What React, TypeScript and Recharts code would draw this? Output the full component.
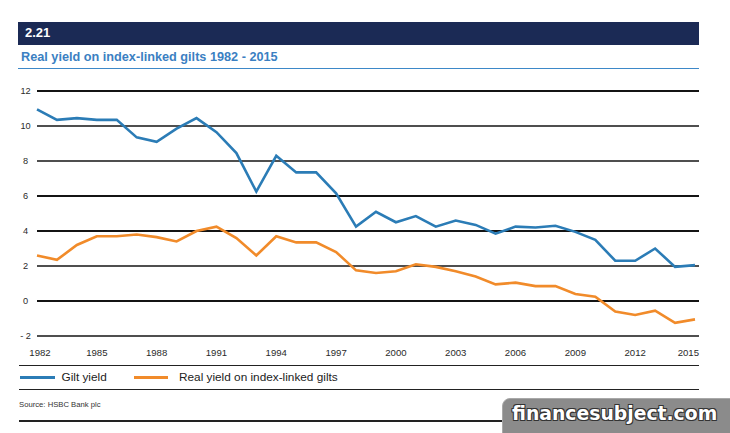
import React from 'react';
import { LineChart, Line, XAxis, YAxis, ReferenceLine } from 'recharts';

// Annual values, 1982 - 2015 (%)
const years = [
  1982, 1983, 1984, 1985, 1986, 1987, 1988, 1989, 1990, 1991, 1992, 1993,
  1994, 1995, 1996, 1997, 1998, 1999, 2000, 2001, 2002, 2003, 2004, 2005,
  2006, 2007, 2008, 2009, 2010, 2011, 2012, 2013, 2014, 2015,
];

const giltYield = [
  10.95, 10.35, 10.45, 10.35, 10.35, 9.35, 9.1, 9.85, 10.45, 9.65, 8.45, 6.25,
  8.3, 7.35, 7.35, 6.15, 4.25, 5.1, 4.5, 4.85, 4.25, 4.6, 4.35, 3.85,
  4.25, 4.2, 4.3, 3.95, 3.5, 2.3, 2.3, 3.0, 1.95, 2.05,
];

const realYield = [
  2.6, 2.35, 3.2, 3.7, 3.7, 3.8, 3.65, 3.4, 4.0, 4.25, 3.6, 2.6,
  3.7, 3.35, 3.35, 2.8, 1.75, 1.6, 1.7, 2.1, 1.95, 1.7, 1.4, 0.95,
  1.05, 0.85, 0.85, 0.4, 0.25, -0.6, -0.8, -0.55, -1.25, -1.05,
];

const yearTicks = [1982, 1985, 1988, 1991, 1994, 1997, 2000, 2003, 2006, 2009, 2012, 2015];
const yieldTicks = [12, 10, 8, 6, 4, 2, 0, -2];
const heavyGridValues = [12, 6, 4, 0];

const rows = years.map((year, i) => ({ year, gilt: giltYield[i], real: realYield[i] }));

const BLUE = '#2b7cb6';
const ORANGE = '#f18b2a';
const NAVY = '#1b2a55';
const SANS = '"Liberation Sans", Arial, sans-serif';

const XTick = (props: any) => {
  const { x, y, payload } = props;
  const v = payload.value;
  let anchor: 'middle' | 'end' = 'middle';
  let dx = 0;
  if (v === yearTicks[0]) dx = 3;
  if (v === yearTicks[yearTicks.length - 1]) {
    anchor = 'end';
    dx = 4;
  }
  return (
    <text x={x + dx} y={y} dy={20} textAnchor={anchor} fontFamily={SANS} fontSize={9.6} fill="#2a2a2a">
      {v}
    </text>
  );
};

const YTick = (props: any) => {
  const { x, y, payload } = props;
  const v = payload.value;
  const label = v < 0 ? `- ${Math.abs(v)}` : String(v);
  return (
    <text x={x - 11.5} y={y} dy={3.3} textAnchor="middle" fontFamily={SANS} fontSize={9.2} fill="#2a2a2a">
      {label}
    </text>
  );
};

const rule = (top: number, h = 1): React.CSSProperties => ({
  position: 'absolute',
  left: 19,
  top,
  width: 680,
  height: h,
  background: '#222',
});

export default function App() {
  return (
    <div
      style={{
        position: 'absolute',
        left: 0,
        top: 0,
        width: 730,
        height: 433,
        overflow: 'hidden',
        background: '#fff',
        fontFamily: SANS,
      }}
    >
      {/* Header band */}
      <div
        style={{
          position: 'absolute',
          left: 18,
          top: 22,
          width: 681,
          height: 23,
          background: NAVY,
          color: '#fff',
          fontWeight: 'bold',
          fontSize: 13,
          lineHeight: '22px',
          paddingLeft: 7,
          boxSizing: 'border-box',
        }}
      >
        2.21
      </div>
      <div
        style={{
          position: 'absolute',
          left: 21,
          top: 49,
          fontSize: 12.7,
          lineHeight: '16px',
          fontWeight: 'bold',
          color: '#3b80c2',
          whiteSpace: 'nowrap',
        }}
      >
        Real yield on index-linked gilts 1982 - 2015
      </div>
      <div style={{ position: 'absolute', left: 18, top: 67.5, width: 681, height: 1.5, background: '#3d88c8' }} />

      <div style={{ position: 'absolute', left: 0, top: 0 }}>
        <LineChart width={730} height={433} data={rows} margin={{ top: 91, right: 31, bottom: 77, left: 0 }}>
          <XAxis
            dataKey="year"
            type="number"
            domain={[1982, 2015]}
            ticks={yearTicks}
            interval={0}
            padding={{ left: 0, right: 4 }}
            axisLine={false}
            tickLine={false}
            tickSize={0}
            tickMargin={0}
            height={20}
            tick={<XTick />}
          />
          <YAxis
            type="number"
            domain={[-2, 12]}
            ticks={yieldTicks}
            interval={0}
            axisLine={false}
            tickLine={false}
            tickSize={0}
            tickMargin={0}
            width={37}
            tick={<YTick />}
          />
          {yieldTicks.map((t) => (
            <ReferenceLine
              key={t}
              y={t}
              stroke="#141414"
              strokeWidth={heavyGridValues.includes(t) ? 2.2 : 1.4}
            />
          ))}
          <Line
            type="linear"
            dataKey="gilt"
            stroke={BLUE}
            strokeWidth={2.6}
            dot={false}
            isAnimationActive={false}
          />
          <Line
            type="linear"
            dataKey="real"
            stroke={ORANGE}
            strokeWidth={2.6}
            dot={false}
            isAnimationActive={false}
          />
        </LineChart>
      </div>

      {/* Rules and legend below the plot */}
      <div style={rule(365)} />
      <div style={{ position: 'absolute', left: 20, top: 376, width: 35, height: 2.5, background: BLUE }} />
      <div style={{ position: 'absolute', left: 61.5, top: 370, fontSize: 11.8, lineHeight: '14px', color: '#222', whiteSpace: 'nowrap' }}>
        Gilt yield
      </div>
      <div style={{ position: 'absolute', left: 134, top: 376, width: 34, height: 2.5, background: ORANGE }} />
      <div style={{ position: 'absolute', left: 179, top: 370, fontSize: 11.8, lineHeight: '14px', color: '#222', whiteSpace: 'nowrap' }}>
        Real yield on index-linked gilts
      </div>
      <div style={rule(389)} />
      <div style={{ position: 'absolute', left: 19, top: 399.5, fontSize: 7.7, lineHeight: '10px', color: '#333', whiteSpace: 'nowrap' }}>
        Source: HSBC Bank plc
      </div>
      <div style={rule(420, 1.5)} />

      {/* Site badge */}
      <div
        style={{
          position: 'absolute',
          left: 502,
          top: 398,
          width: 240,
          height: 45,
          borderRadius: 8,
          background: '#8b8b8b',
          border: '1px solid #a8a8a8',
        }}
      />
      <div
        style={{
          position: 'absolute',
          left: 512,
          top: 403,
          fontFamily: '"DejaVu Sans", sans-serif',
          fontWeight: 'bold',
          fontSize: 18.8,
          lineHeight: '22px',
          color: '#fff',
          whiteSpace: 'nowrap',
          textShadow: '1px 1px 0 #333, -1px -1px 0 #333, 1px -1px 0 #333, -1px 1px 0 #333',
        }}
      >
        financesubject.com
      </div>
    </div>
  );
}
